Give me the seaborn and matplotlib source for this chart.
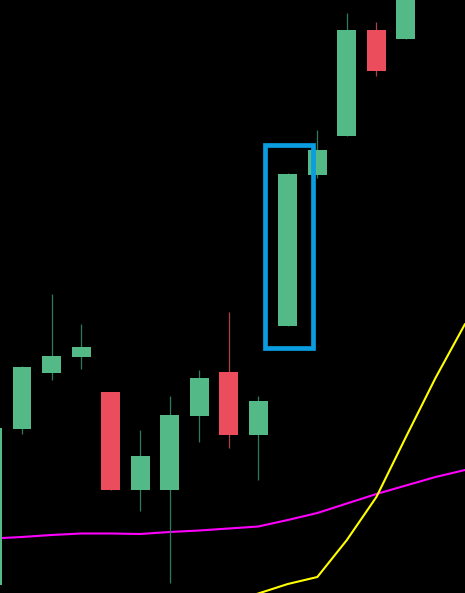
"""Candlestick snapshot with two moving averages and a highlight box."""

import matplotlib
matplotlib.use("Agg")

import matplotlib.pyplot as plt
import matplotlib.patches as mpatches
import seaborn as sns
import pandas as pd
import numpy as np

# candle data (index, open, high, low, close)
idx = list(range(15))
opens = [20.8, 36.4, 42.0, 43.6, 40.1, 30.3, 30.3, 37.7, 42.1, 35.8, 46.7, 61.8, 65.7, 76.3, 75.4]
highs = [36.5, 42.7, 49.9, 46.9, 40.1, 36.3, 39.7, 42.3, 48.1, 39.7, 62.0, 66.3, 78.0, 77.1, 82.0]
lows = [20.8, 35.9, 41.3, 42.4, 30.3, 28.2, 21.0, 35.1, 34.5, 31.3, 46.7, 61.5, 65.7, 71.7, 75.4]
closes = [36.5, 42.6, 43.7, 44.6, 30.3, 33.7, 37.8, 41.5, 35.8, 39.2, 61.9, 64.3, 76.3, 72.2, 81.3]

# moving averages
ma_slow_idx = list(range(17))
ma_slow = [25.45, 25.6, 25.8, 25.95, 25.95, 25.9, 26.1, 26.25, 26.45, 26.65,
           27.3, 28.0, 28.95, 29.9, 30.75, 31.6, 32.3]
ma_fast_idx = list(range(8, 17))
ma_fast = [19.0, 19.95, 20.9, 21.6, 25.3, 29.6, 35.6, 41.5, 46.9]

# highlighted candle
hl_index = 10
hl_low, hl_high = 44.55, 64.75

GREEN = "#53b987"
RED = "#eb4d5c"
GREEN_WICK = "#2f7a58"
RED_WICK = "#a8424e"

df = pd.DataFrame({"i": idx, "open": opens, "high": highs, "low": lows, "close": closes})
df["up"] = df["close"] >= df["open"]

sns.set_style("dark", {"axes.facecolor": "black", "figure.facecolor": "black"})

fig = plt.figure(figsize=(4.65, 5.93), dpi=100)
ax = fig.add_axes([0, 0, 1, 1])
ax.set_facecolor("black")

# moving averages under the candles
slow = pd.DataFrame({"i": ma_slow_idx, "v": ma_slow})
fast = pd.DataFrame({"i": ma_fast_idx, "v": ma_fast})
sns.lineplot(data=slow, x="i", y="v", ax=ax, color="#ff00ff", linewidth=1.5)
sns.lineplot(data=fast, x="i", y="v", ax=ax, color="#ffff00", linewidth=1.5)

# wicks
ax.vlines(df["i"], df["low"], df["high"],
          colors=np.where(df["up"], GREEN_WICK, RED_WICK), linewidth=0.9, zorder=3)

# bodies
body_lo = df[["open", "close"]].min(axis=1)
body_h = (df["close"] - df["open"]).abs()
ax.bar(df["i"], body_h, bottom=body_lo, width=0.643,
       color=np.where(df["up"], GREEN, RED), linewidth=0, zorder=4)

# highlight box
ax.add_patch(mpatches.Rectangle((hl_index - 0.757, hl_low), 1.625, hl_high - hl_low,
                                fill=False, edgecolor="#0a9de0", linewidth=3.4, zorder=5))

ax.set_xlim(0.255, 16.0)
ax.set_ylim(20.0, 79.3)
ax.set_axis_off()

fig.savefig("out.png", dpi=100, facecolor="black")
plt.close(fig)
